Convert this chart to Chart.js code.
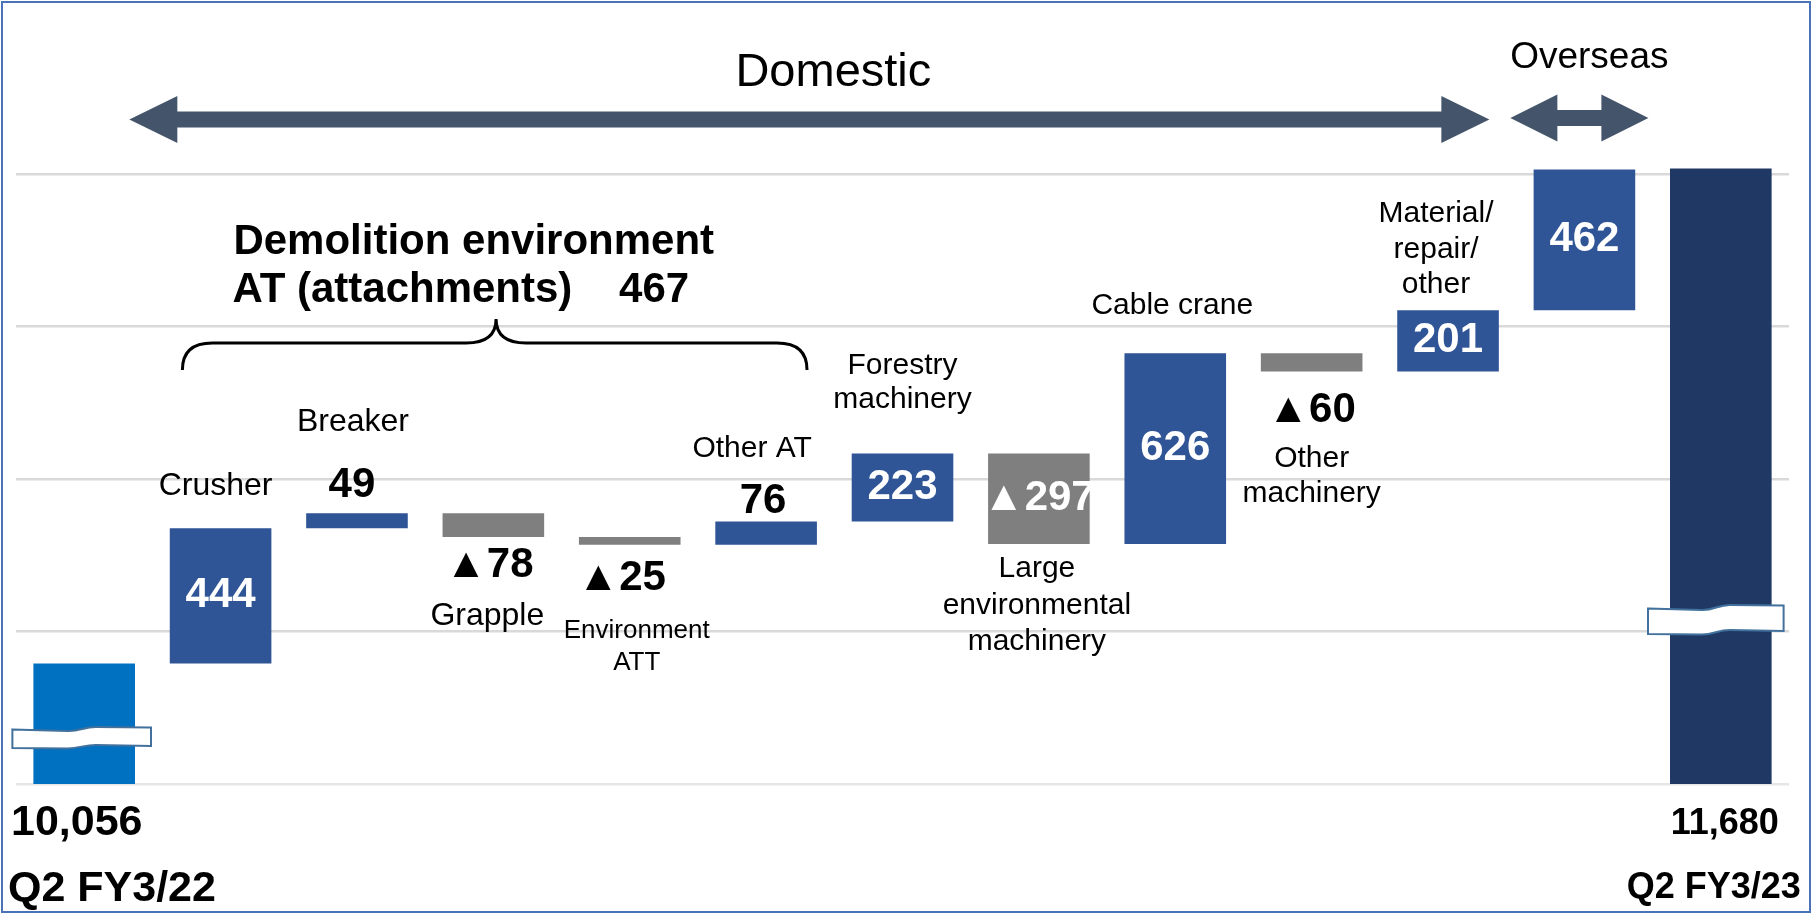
<!DOCTYPE html>
<html>
<head>
<meta charset="utf-8">
<title>Net sales bridge Q2 FY3/22 to Q2 FY3/23</title>
<script src="https://cdn.jsdelivr.net/npm/chart.js@4.4.1/dist/chart.umd.min.js"></script>
<style>
  html, body { margin: 0; padding: 0; background: #ffffff; }
  #wrap { position: relative; width: 1812px; height: 913px; }
</style>
</head>
<body>
<div id="wrap"><canvas id="bridgeChart"></canvas></div>
<script>
// segment names, one entry per bar (inner arrays are the printed lines)
const categories = [
  ["Q2 FY3/22"],
  ["Crusher"],
  ["Breaker"],
  ["Grapple"],
  ["Environment", "ATT"],
  ["Other AT"],
  ["Forestry", "machinery"],
  ["Large", "environmental", "machinery"],
  ["Cable crane"],
  ["Other", "machinery"],
  ["Material/", "repair/", "other"],
  ["Overseas"],
  ["Q2 FY3/23"]
];
const startTotal = 10056;
const endTotal = 11680;
const changes = [444, 49, -78, -25, 76, 223, -297, 626, -60, 201, 462];
const attachmentTotal = 467;

// broken axis: only the top part of the scale is shown
const axisMin = 9661;
const axisMax = 11708;
const gridValues = [9661, 10161, 10661, 11161, 11661];

const COLOR_START = "#0070C0";
const COLOR_UP = "#2F5597";
const COLOR_DOWN = "#7F7F7F";
const COLOR_END = "#203864";
const ARROW_COLOR = "#44546A";
const FONT = '"Liberation Sans", Arial, sans-serif';

// where each bar's name and value go
const labelStyle = [
  null,
  { side: "above", gap: 33, lineHeight: 34, size: 32, dx: -5, value: "inside" },
  { side: "above", gap: 82, lineHeight: 34, size: 32, dx: -4, value: "above", valueGap: 16, valueDx: -5 },
  { side: "below", gap: 88, lineHeight: 34, size: 32, dx: -6, value: "below", valueGap: 40, valueDx: -4 },
  { side: "below", gap: 93, lineHeight: 32, size: 26, dx: 7, value: "below", valueGap: 45, valueDx: -8 },
  { side: "above", gap: 65, lineHeight: 34, dx: -14, value: "above", valueGap: 9, valueDx: -3 },
  { side: "above", gap: 46, lineHeight: 34, value: "inside" },
  { side: "below", gap: 33, lineHeight: 36.5, dx: -2, value: "inside" },
  { side: "above", gap: 39, lineHeight: 34, dx: -3, value: "inside" },
  { side: "below", gap: 95, lineHeight: 35, value: "below", valueGap: 50 },
  { side: "above", gap: 17, lineHeight: 35.5, dx: -12, value: "inside" },
  { side: "none", value: "inside" },
  null
];

function buildSteps() {
  const ranges = [[axisMin, startTotal]];
  const colors = [COLOR_START];
  let level = startTotal;
  changes.forEach((delta) => {
    ranges.push([level, level + delta]);
    colors.push(delta >= 0 ? COLOR_UP : COLOR_DOWN);
    level += delta;
  });
  ranges.push([axisMin, endTotal]);
  colors.push(COLOR_END);
  return { ranges, colors };
}

function formatChange(delta) {
  return delta < 0 ? "\u25B2" + Math.abs(delta) : String(delta);
}

function drawArrow(ctx, x0, x1, y, shaft, headLen, headHalf) {
  ctx.beginPath();
  ctx.moveTo(x0, y);
  ctx.lineTo(x0 + headLen, y - headHalf);
  ctx.lineTo(x0 + headLen, y - shaft / 2);
  ctx.lineTo(x1 - headLen, y - shaft / 2);
  ctx.lineTo(x1 - headLen, y - headHalf);
  ctx.lineTo(x1, y);
  ctx.lineTo(x1 - headLen, y + headHalf);
  ctx.lineTo(x1 - headLen, y + shaft / 2);
  ctx.lineTo(x0 + headLen, y + shaft / 2);
  ctx.lineTo(x0 + headLen, y + headHalf);
  ctx.closePath();
  ctx.fillStyle = ARROW_COLOR;
  ctx.fill();
}

function drawBrace(ctx, x0, xm, x1, yLine, yEnd, yPeak) {
  const r = 30;
  ctx.beginPath();
  ctx.moveTo(x0, yEnd);
  ctx.quadraticCurveTo(x0, yLine, x0 + r, yLine);
  ctx.lineTo(xm - r, yLine);
  ctx.quadraticCurveTo(xm, yLine, xm, yPeak);
  ctx.quadraticCurveTo(xm, yLine, xm + r, yLine);
  ctx.lineTo(x1 - r, yLine);
  ctx.quadraticCurveTo(x1, yLine, x1, yEnd);
  ctx.strokeStyle = "#000000";
  ctx.lineWidth = 3;
  ctx.stroke();
}

// white "wave" strip marking the axis break
function drawBreak(ctx, x0, x1, yc, h, shift) {
  const xm = (x0 + x1) / 2;
  const d = 14;
  const tL = yc - h / 2 + shift / 2;
  const tR = yc - h / 2 - shift / 2;
  const bL = tL + h;
  const bR = tR + h;
  ctx.beginPath();
  ctx.moveTo(x0, tL);
  ctx.lineTo(xm - d, tL + 1.5);
  ctx.bezierCurveTo(xm - 2, tL + 2, xm + 2, tR, xm + d, tR);
  ctx.lineTo(x1, tR + 0.5);
  ctx.lineTo(x1, bR);
  ctx.lineTo(xm + d, bR - 1);
  ctx.bezierCurveTo(xm + 2, bR - 1, xm - 2, bL, xm - d, bL);
  ctx.lineTo(x0, bL - 0.5);
  ctx.closePath();
  ctx.fillStyle = "#ffffff";
  ctx.fill();
  ctx.strokeStyle = "#41719C";
  ctx.lineWidth = 2;
  ctx.stroke();
}

const annotationPlugin = {
  id: "bridgeAnnotations",
  afterDatasetsDraw(chart) {
    const ctx = chart.ctx;
    const xScale = chart.scales.x;
    const xAt = (i) => xScale.getPixelForValue(i);
    const bars = chart.getDatasetMeta(0).data;

    ctx.save();

    // axis-break marks on the two total bars
    const first = bars[0];
    const last = bars[bars.length - 1];
    drawBreak(ctx, first.x - first.width / 2 - 21, first.x + first.width / 2 + 16,
      first.base + (first.y - first.base) * 0.385, 19, 2.5);
    drawBreak(ctx, last.x - last.width / 2 - 22, last.x + last.width / 2 + 12,
      last.base + (last.y - last.base) * 0.267, 26, 3.5);

    // names and values next to each step
    ctx.textAlign = "center";
    ctx.textBaseline = "alphabetic";
    bars.forEach((bar, i) => {
      const style = labelStyle[i];
      if (!style) return;
      const top = Math.min(bar.y, bar.base);
      const bottom = Math.max(bar.y, bar.base);
      const delta = changes[i - 1];
      const text = formatChange(delta);

      ctx.font = `bold 42px ${FONT}`;
      if (style.value === "inside") {
        ctx.fillStyle = "#ffffff";
        ctx.textBaseline = "middle";
        ctx.fillText(text, bar.x, (top + bottom) / 2);
        ctx.textBaseline = "alphabetic";
      } else {
        ctx.fillStyle = "#000000";
        const y = style.value === "above" ? top - style.valueGap : bottom + style.valueGap;
        ctx.fillText(text, bar.x + (style.valueDx || 0), y);
      }

      if (style.side === "none") return;
      const lines = categories[i];
      const x = bar.x + (style.dx || 0);
      ctx.fillStyle = "#000000";
      ctx.font = `${style.size || 30}px ${FONT}`;
      lines.forEach((line, k) => {
        let y;
        if (style.side === "above") {
          y = top - style.gap - (lines.length - 1 - k) * style.lineHeight;
        } else {
          y = bottom + style.gap + k * style.lineHeight;
        }
        ctx.fillText(line, x, y);
      });
    });

    // totals under the two end bars
    ctx.fillStyle = "#000000";
    ctx.textAlign = "left";
    ctx.font = `bold 43px ${FONT}`;
    ctx.fillText(startTotal.toLocaleString("en-US"), 11, 835);
    ctx.fillText(categories[0][0], 8, 901);
    ctx.textAlign = "center";
    ctx.font = `bold 36px ${FONT}`;
    ctx.fillText(endTotal.toLocaleString("en-US"), last.x + 4, 834);
    ctx.fillText(categories[categories.length - 1][0], last.x - 7, 898);

    // domestic / overseas arrows
    drawArrow(ctx, xAt(0.331), xAt(10.303), 119.5, 16, 48, 23.5);
    drawArrow(ctx, xAt(10.457), xAt(11.469), 118, 16, 47, 23.5);
    ctx.fillStyle = "#000000";
    ctx.font = `47px ${FONT}`;
    ctx.fillText("Domestic", xAt(5.493), 86);
    ctx.font = `37px ${FONT}`;
    ctx.fillText(categories[11][0], xAt(11.036), 68);

    // attachment group heading and brace
    ctx.textAlign = "left";
    ctx.font = `bold 42px ${FONT}`;
    ctx.fillText("Demolition environment", xAt(1.094), 254);
    ctx.fillText("AT (attachments)    " + attachmentTotal, xAt(1.087), 302);
    drawBrace(ctx, xAt(0.72), xAt(3.02), xAt(5.3), 343, 370, 319);

    // slide frame
    ctx.strokeStyle = "#4A72B8";
    ctx.lineWidth = 2;
    ctx.strokeRect(2, 2, chart.width - 4, chart.height - 3);

    ctx.restore();
  }
};

function renderChart() {
  const steps = buildSteps();
  const ctx = document.getElementById("bridgeChart").getContext("2d");
  new Chart(ctx, {
    type: "bar",
    data: {
      labels: categories,
      datasets: [
        {
          data: steps.ranges,
          backgroundColor: steps.colors,
          borderWidth: 0,
          barPercentage: 0.745,
          categoryPercentage: 1.0
        }
      ]
    },
    options: {
      responsive: true,
      maintainAspectRatio: false,
      animation: false,
      layout: {
        padding: { left: 16, right: 23, top: 160, bottom: 129 }
      },
      plugins: {
        legend: { display: false },
        tooltip: { enabled: false }
      },
      scales: {
        x: {
          display: false
        },
        y: {
          min: axisMin,
          max: axisMax,
          afterBuildTicks: (scale) => {
            scale.ticks = gridValues.map((value) => ({ value }));
          },
          ticks: { display: false },
          border: { display: false },
          grid: {
            color: (c) => (c.index === 0 ? "#E6E6E6" : "#D9D9D9"),
            lineWidth: 2.5,
            drawTicks: false
          }
        }
      }
    },
    plugins: [annotationPlugin]
  });
}

renderChart();
</script>
</body>
</html>
